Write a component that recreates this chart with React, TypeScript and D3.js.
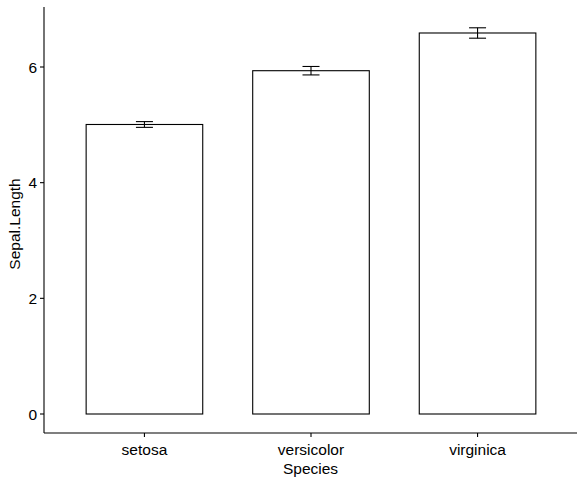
import React from "react";
import * as d3 from "d3";

const species = ["setosa", "versicolor", "virginica"];
const means = [5.006, 5.936, 6.588];
const ses = [0.0498, 0.073, 0.0899];
const yTicks = [0, 2, 4, 6];

const W = 586;
const H = 485;
const left = 44;
const right = 577;
const top = 7;
const bottom = 433;

export default function App() {
  const x = d3.scaleBand<string>().domain(species).range([left + 0.5, right + 0.5]).paddingInner(0.3).paddingOuter(0.25);
  const y = d3.scaleLinear().domain([0, 6]).range([414, 67]);
  const bw = x.bandwidth();
  const font = "'Liberation Sans', Arial, sans-serif";
  const fs = 15.5;
  return (
    <svg width={W} height={H} style={{ position: "absolute", left: 0, top: 0, background: "#fff" }} fontFamily={font}>
      {species.map((s, i) => {
        const x0 = x(s)!;
        const cx = x0 + bw / 2;
        return (
          <g key={s}>
            <rect x={x0} y={y(means[i])} width={bw} height={y(0) - y(means[i])} fill="#fff" stroke="#000" strokeWidth={1.1} />
            <line x1={cx} x2={cx} y1={y(means[i] - ses[i])} y2={y(means[i] + ses[i])} stroke="#000" strokeWidth={1.1} />
            <line x1={cx - 8.5} x2={cx + 8.5} y1={y(means[i] - ses[i])} y2={y(means[i] - ses[i])} stroke="#000" strokeWidth={1.1} />
            <line x1={cx - 8.5} x2={cx + 8.5} y1={y(means[i] + ses[i])} y2={y(means[i] + ses[i])} stroke="#000" strokeWidth={1.1} />
            <line x1={cx} x2={cx} y1={bottom} y2={bottom + 4} stroke="#000" strokeWidth={1.1} />
            <text x={cx} y={455} textAnchor="middle" fontSize={fs} fill="#000">{s}</text>
          </g>
        );
      })}
      {yTicks.map((t) => (
        <g key={t}>
          <line x1={left - 4} x2={left} y1={y(t)} y2={y(t)} stroke="#000" strokeWidth={1.1} />
          <text x={37} y={y(t) + 5.5} textAnchor="end" fontSize={fs} fill="#000">{t}</text>
        </g>
      ))}
      <line x1={left} x2={left} y1={top} y2={bottom} stroke="#000" strokeWidth={1.1} />
      <line x1={left} x2={right} y1={bottom} y2={bottom} stroke="#000" strokeWidth={1.1} />
      <text x={(left + right) / 2} y={474} textAnchor="middle" fontSize={fs} fill="#000">Species</text>
      <text transform={`translate(20, ${(top + bottom) / 2 + 4}) rotate(-90)`} textAnchor="middle" fontSize={fs} fill="#000">Sepal.Length</text>
    </svg>
  );
}
